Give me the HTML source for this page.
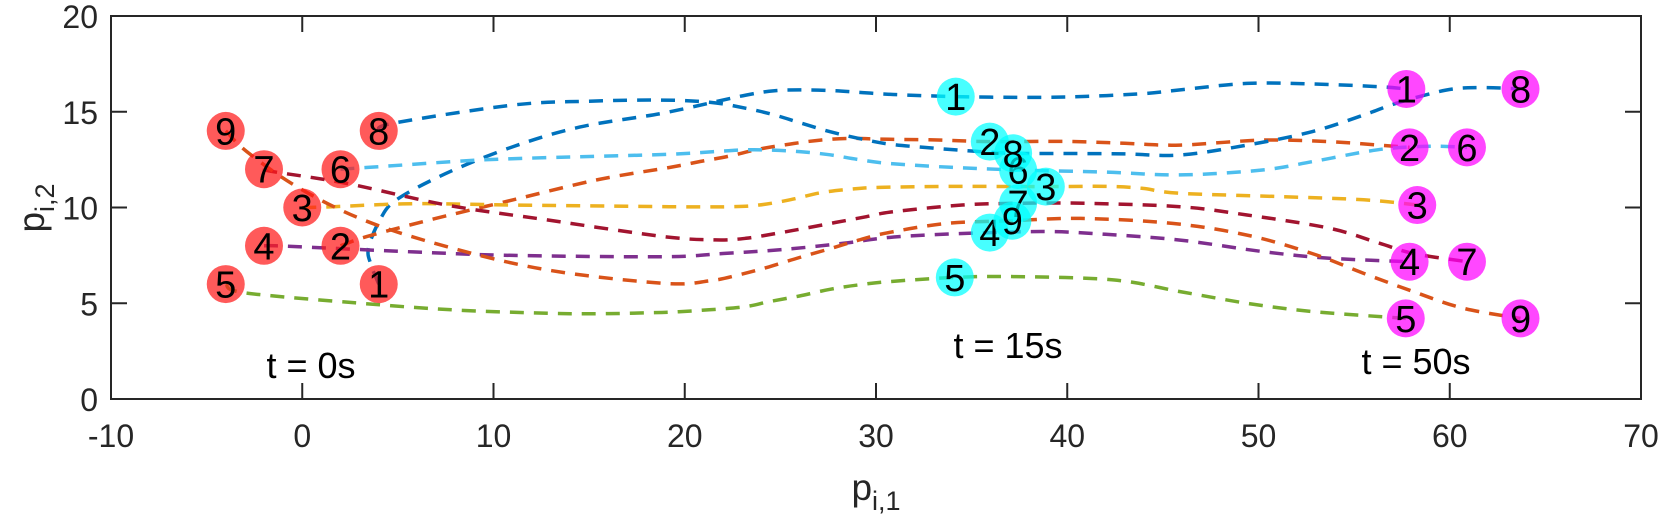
<!DOCTYPE html>
<html><head><meta charset="utf-8">
<style>
html,body{margin:0;padding:0;background:#fff;}
svg{display:block;font-family:"Liberation Sans",Arial,sans-serif;}
</style></head>
<body>
<svg id="chart" width="1660" height="516" viewBox="0 0 1660 516" xmlns="http://www.w3.org/2000/svg">
  <rect x="0" y="0" width="1660" height="516" fill="#fff"/>
  <g id="lines"></g>
  <g id="marks"></g>
  <g id="axes"></g>
  <text x="311" y="378" font-size="36" text-anchor="middle" fill="#000">t = 0s</text>
  <text x="1008" y="358" font-size="36" text-anchor="middle" fill="#000">t = 15s</text>
  <text x="1416" y="374" font-size="36" text-anchor="middle" fill="#000">t = 50s</text>
  <text x="876" y="500" font-size="37" text-anchor="middle" fill="#262626">p<tspan font-size="27" dy="10">i,1</tspan></text>
  <text transform="translate(44,208) rotate(-90)" font-size="37" text-anchor="middle" fill="#262626">p<tspan font-size="27" dy="10">i,2</tspan></text>
</svg>
<script>
const xTicks = [-10,0,10,20,30,40,50,60,70];
const yTicks = [0,5,10,15,20];
const agentColors = ['#0072BD','#D95319','#EDB120','#7E2F8E','#77AC30','#4DBEEE','#A2142F','#0072BD','#D95319'];
const agentIds = ['1','2','3','4','5','6','7','8','9'];
const startX = [4,2,0,-2,-4,2,-2,4,-4];
const startY = [6,8,10,8,6,12,12,14,14];
const midX = [34.17,35.95,38.88,35.95,34.12,37.43,37.43,37.17,37.13];
const midY = [15.79,13.44,11.09,8.69,6.35,11.96,10.22,12.83,9.31];
const endX = [57.73,57.9,58.3,57.9,57.7,60.9,60.9,63.7,63.7];
const endY = [16.19,13.14,10.13,7.17,4.21,13.14,7.17,16.19,4.21];
const traj1X = [4,3.6,3.46,4.06,4.93,7.54,11.03,14.5,18.7,21.5,23.2,24.7,26.2,27.8,29.3,30.9,34.17,38,41,44,45.9,49.4,52.8,56.3,57.73];
const traj1Y = [6,7.0,7.87,9.35,10.4,11.79,13.18,14.2,14.9,15.5,15.87,16.1,16.14,16.1,16.0,15.9,15.79,15.75,15.8,15.95,16.14,16.48,16.45,16.31,16.19];
const traj2X = [2,3.37,6.67,11.03,15.4,19.2,20.8,22.4,23.9,25.5,27.1,28.7,30.2,33,35.95,40,43,45.9,50.2,53.7,56.3,57.9];
const traj2Y = [8,8.48,9.35,10.4,11.44,12.09,12.4,12.7,13.05,13.31,13.52,13.61,13.57,13.53,13.44,13.45,13.35,13.26,13.52,13.44,13.26,13.14];
const traj3X = [0,1.62,5.8,11,19.2,22.4,23.9,25.5,27.1,28.7,30.2,34,38.88,42,43.9,45.9,51.1,55.5,58.3];
const traj3Y = [10,10.04,10.2,10.13,10.04,10.04,10.13,10.4,10.77,10.96,11.05,11.1,11.09,11.1,11.0,10.74,10.57,10.4,10.13];
const traj4X = [-2,-0.82,5.8,11.03,18.9,22,25.1,28.3,31.2,35.95,39.2,42,45.9,50.2,53.7,57.9];
const traj4Y = [8,7.98,7.68,7.5,7.43,7.6,7.8,8.13,8.48,8.69,8.74,8.6,8.3,7.7,7.35,7.17];
const traj5X = [-4,-2.9,4.06,8,12,15,18,19.7,22.9,24.4,26,27.6,29.1,30.7,34.12,37.2,42.4,45.9,49.4,52.8,57.7];
const traj5Y = [6,5.53,4.92,4.65,4.5,4.45,4.5,4.56,4.79,5.08,5.38,5.73,5.96,6.13,6.35,6.39,6.22,5.61,5.0,4.57,4.21];
const traj6X = [2,3.54,9.3,14.5,19.4,22.9,24.4,26,27.6,29.1,30.7,33.9,37.43,42,45.9,50.2,52.8,55.5,57,59.1,60.9];
const traj6Y = [12,12.1,12.48,12.65,12.79,13.0,13.0,12.92,12.75,12.5,12.3,12.1,11.96,11.85,11.7,11.96,12.39,12.9,13.1,13.2,13.14];
const traj7X = [-2,-1.51,2.32,7.54,12.8,18.9,21.6,23.2,24.8,26.3,27.9,29.5,30.9,34.5,37.43,41,45.9,49.4,53.7,56.3,58.1,60.9];
const traj7Y = [12,11.87,11.26,10.13,9.35,8.48,8.31,8.39,8.65,8.92,9.22,9.52,9.78,10.13,10.22,10.22,10.04,9.61,8.92,8.14,7.6,7.17];
const traj8X = [4,4.76,11.03,15,18.7,21.3,23.2,24.7,26.1,27.6,29.1,30.7,33,35,37.17,40,43,45.9,49.4,52.8,55.5,57.2,59.8,61.6,63.7];
const traj8Y = [14,14.4,15.35,15.55,15.61,15.5,15.18,14.83,14.4,13.96,13.61,13.31,13.1,12.95,12.83,12.82,12.8,12.74,13.26,13.96,14.83,15.44,16.13,16.26,16.19];
const traj9X = [-4,-2.9,-0.29,3.2,7.54,12.8,18.9,21.3,22.9,24.4,26,27.6,29.1,30.6,33.7,37.13,40.7,45.5,49.4,52.8,55.5,58.1,60.7,63.7];
const traj9Y = [14,12.92,11.09,9.35,7.96,6.74,6.04,6.17,6.5,6.9,7.39,7.85,8.3,8.68,9.17,9.31,9.43,9.17,8.56,7.6,6.56,5.61,4.74,4.21];

const trajX = [traj1X,traj2X,traj3X,traj4X,traj5X,traj6X,traj7X,traj8X,traj9X];
const trajY = [traj1Y,traj2Y,traj3Y,traj4Y,traj5Y,traj6Y,traj7Y,traj8Y,traj9Y];

const L=111, R=1641, T=16, B=399, xMin=-10, xMax=70, yMin=0, yMax=20;
function sx(v){return L+(v-xMin)/(xMax-xMin)*(R-L);}
function sy(v){return B-(v-yMin)/(yMax-yMin)*(B-T);}
const NS='http://www.w3.org/2000/svg';
function mk(tag,attrs){const e=document.createElementNS(NS,tag);for(const k in attrs)e.setAttribute(k,attrs[k]);return e;}

function smoothPath(xs,ys){
  const p=xs.map((x,i)=>[sx(x),sy(ys[i])]);
  let d='M'+p[0][0].toFixed(1)+','+p[0][1].toFixed(1);
  for(let i=0;i<p.length-1;i++){
    const p0=p[Math.max(0,i-1)],p1=p[i],p2=p[i+1],p3=p[Math.min(p.length-1,i+2)];
    const c1=[p1[0]+(p2[0]-p0[0])/6,p1[1]+(p2[1]-p0[1])/6];
    const c2=[p2[0]-(p3[0]-p1[0])/6,p2[1]-(p3[1]-p1[1])/6];
    d+=' C'+c1[0].toFixed(1)+','+c1[1].toFixed(1)+' '+c2[0].toFixed(1)+','+c2[1].toFixed(1)+' '+p2[0].toFixed(1)+','+p2[1].toFixed(1);
  }
  return d;
}

const lines=document.getElementById('lines');
for(let i=0;i<trajX.length;i++){
  const path=mk('path',{d:smoothPath(trajX[i],trajY[i]),fill:'none',stroke:agentColors[i],'stroke-width':3.5,'stroke-dasharray':'14 10'});
  
  
  lines.appendChild(path);
}

const marks=document.getElementById('marks');
function drawMarkers(xs,ys,fill,label){
  for(let i=0;i<xs.length;i++){
    const g=mk('g',{});
    
    
    g.appendChild(mk('circle',{cx:sx(xs[i]),cy:sy(ys[i]),r:19,fill:fill,'fill-opacity':0.72}));
    const t=mk('text',{x:sx(xs[i]),y:sy(ys[i])+13.5,'font-size':38,'text-anchor':'middle',fill:'#000'});
    t.textContent=agentIds[i];
    g.appendChild(t);
    marks.appendChild(g);
  }
}
drawMarkers(startX,startY,'#FF1a1a','start-marker');
drawMarkers(midX,midY,'#00FFFF','mid-marker');
drawMarkers(endX,endY,'#FF00FF','end-marker');

const axes=document.getElementById('axes');
const box=mk('rect',{x:L,y:T,width:R-L,height:B-T,fill:'none',stroke:'#262626','stroke-width':2});


axes.appendChild(box);
xTicks.forEach(v=>{
  const x=sx(v);
  axes.appendChild(mk('line',{x1:x,y1:B,x2:x,y2:B-16,stroke:'#262626','stroke-width':2}));
  axes.appendChild(mk('line',{x1:x,y1:T,x2:x,y2:T+16,stroke:'#262626','stroke-width':2}));
  const t=mk('text',{x:x,y:447,'font-size':32,'text-anchor':'middle',fill:'#262626'});
  t.textContent=String(v);
  
  
  axes.appendChild(t);
});
yTicks.forEach(v=>{
  const y=sy(v);
  axes.appendChild(mk('line',{x1:L,y1:y,x2:L+16,y2:y,stroke:'#262626','stroke-width':2}));
  axes.appendChild(mk('line',{x1:R,y1:y,x2:R-16,y2:y,stroke:'#262626','stroke-width':2}));
  const t=mk('text',{x:98,y:y+12,'font-size':32,'text-anchor':'end',fill:'#262626'});
  t.textContent=String(v);
  
  
  axes.appendChild(t);
});
</script>
</body></html>
